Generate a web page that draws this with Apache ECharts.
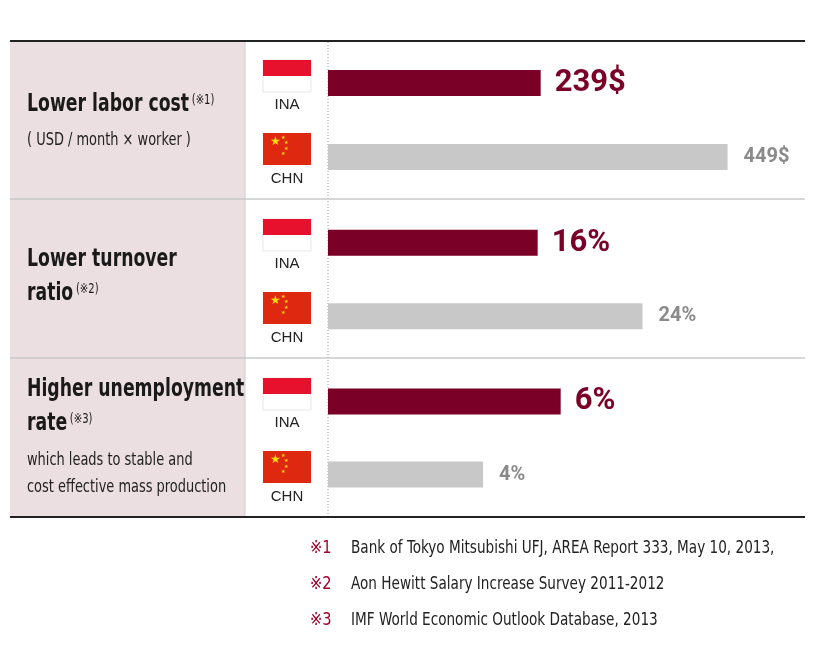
<!DOCTYPE html>
<html><head><meta charset="utf-8">
<script src="https://cdn.jsdelivr.net/npm/echarts@6/dist/echarts.min.js"></script>
<style>html,body{margin:0;padding:0;background:#fff}#c{width:820px;height:646px}</style>
</head><body><div id="c"></div>
<script>
const categories = ['INA', 'CHN'];
const laborCost = [239, 449];
const turnover = [16, 24];
const unemployment = [6, 4];
const laborLabels = ['239$', '449$'];
const turnoverLabels = ['16%', '24%'];
const unemploymentLabels = ['6%', '4%'];
const axisMax = [536, 36.4, 12.3];

const RED = '#7b0027', GREY = '#c8c8c8', GTXT = '#8a8a8a';
const FONT = '"DejaVu Sans Condensed","Roboto",sans-serif';
const chart = echarts.init(document.getElementById('c'));
const groups = [[laborCost, laborLabels, 46, 148], [turnover, turnoverLabels, 206, 147], [unemployment, unemploymentLabels, 365, 146]];
const grid = [], xAxis = [], yAxis = [], series = [];
groups.forEach((g, i) => {
  grid.push({left: 328, right: 15, top: g[2], height: g[3]});
  xAxis.push({gridIndex: i, type: 'value', min: 0, max: axisMax[i], show: false});
  yAxis.push({gridIndex: i, type: 'category', data: categories, inverse: true, show: false});
  series.push({type: 'bar', xAxisIndex: i, yAxisIndex: i, barWidth: 26, silent: true,
    data: g[0].map((v, k) => ({value: v,
      itemStyle: {color: k === 0 ? RED : GREY},
      label: {show: true, position: 'right', distance: k === 0 ? 14 : 16,
        formatter: g[1][k], fontFamily: '"Roboto","Liberation Sans",sans-serif', fontWeight: 'bold',
        fontSize: k === 0 ? 31 : 20, color: k === 0 ? RED : GTXT}}))});
});
const gr = [];
gr.push({type: 'rect', shape: {x: 10, y: 41, width: 235, height: 476}, style: {fill: '#ecdfe2'}, z: -1});
gr.push({type: 'line', shape: {x1: 245, y1: 41, x2: 245, y2: 517}, style: {stroke: '#d5c8cb', lineWidth: 1}});
gr.push({type: 'line', shape: {x1: 328, y1: 42, x2: 328, y2: 516}, style: {stroke: '#999', lineWidth: 1, lineDash: [1, 2]}});
[199, 358].forEach(y => gr.push({type: 'line', shape: {x1: 10, y1: y, x2: 805, y2: y}, style: {stroke: '#c8c8c8', lineWidth: 1.5}}));
[41, 517].forEach(y => gr.push({type: 'line', shape: {x1: 10, y1: y, x2: 805, y2: y}, style: {stroke: '#222', lineWidth: 2}}));
[[60, 133], [219, 292], [378, 451]].forEach(([ya, yc]) => {
  gr.push({type: 'rect', shape: {x: 263, y: ya, width: 48, height: 32}, style: {fill: '#fff', stroke: '#ccc', lineWidth: 0.5}});
  gr.push({type: 'rect', shape: {x: 263, y: ya, width: 48, height: 16}, style: {fill: '#e8112d'}});
  gr.push({type: 'text', x: 287, y: ya + 37, style: {text: 'INA', font: '15px "Liberation Sans",sans-serif', fill: '#222', align: 'center'}});
  gr.push({type: 'rect', shape: {x: 263, y: yc, width: 48, height: 32}, style: {fill: '#de2910'}});
  gr.push({type: 'text', x: 270, y: yc + 3, style: {text: '★', font: '12px "DejaVu Sans"', fill: '#ffde00'}});
  [[281, yc + 2], [284, yc + 7], [284, yc + 13], [281, yc + 18]].forEach(p =>
    gr.push({type: 'text', x: p[0], y: p[1], style: {text: '★', font: '5px "DejaVu Sans"', fill: '#ffde00'}}));
  gr.push({type: 'text', x: 287, y: yc + 38, style: {text: 'CHN', font: '15px "Liberation Sans",sans-serif', fill: '#222', align: 'center'}});
});
const SX = 0.8;
const rich = {b: {fontFamily: FONT, fontWeight: 'bold', fontSize: 24, color: '#1a1a1a'},
  s: {fontFamily: FONT, fontSize: 14, color: RED, verticalAlign: 'top', padding: [0, 0, 10, 0]}};
function T(x, y, text) { gr.push({type: 'text', x, y, scaleX: SX, style: {text, rich, fill: '#1a1a1a', verticalAlign: 'middle'}}); }
function P(x, y, text, size, fill, sx) { gr.push({type: 'text', x, y, scaleX: sx, style: {text, font: size + 'px ' + FONT, fill, verticalAlign: 'middle'}}); }
T(27, 105, '{b|Lower labor cost} {s|(※1)}');
P(27, 140, '( USD / month × worker )', 18, '#222', SX);
T(27, 260, '{b|Lower turnover}');
T(27, 294, '{b|ratio} {s|(※2)}');
T(27, 390, '{b|Higher unemployment}');
T(27, 424, '{b|rate} {s|(※3)}');
P(27, 460, 'which leads to stable and', 18, '#222', SX);
P(27, 487, 'cost effective mass production', 18, '#222', SX);
const notes = ['Bank of Tokyo Mitsubishi UFJ, AREA Report 333, May 10, 2013,', 'Aon Hewitt Salary Increase Survey 2011-2012', 'IMF World Economic Outlook Database, 2013'];
notes.forEach((n, i) => {
  const y = 548 + i * 36;
  P(310, y, '※' + (i + 1), 18, '#a0002a', 0.9);
  P(351, y, n, 18, '#222', 0.84);
});
chart.setOption({animation: false, grid, xAxis, yAxis, series, graphic: gr});
</script></body></html>
